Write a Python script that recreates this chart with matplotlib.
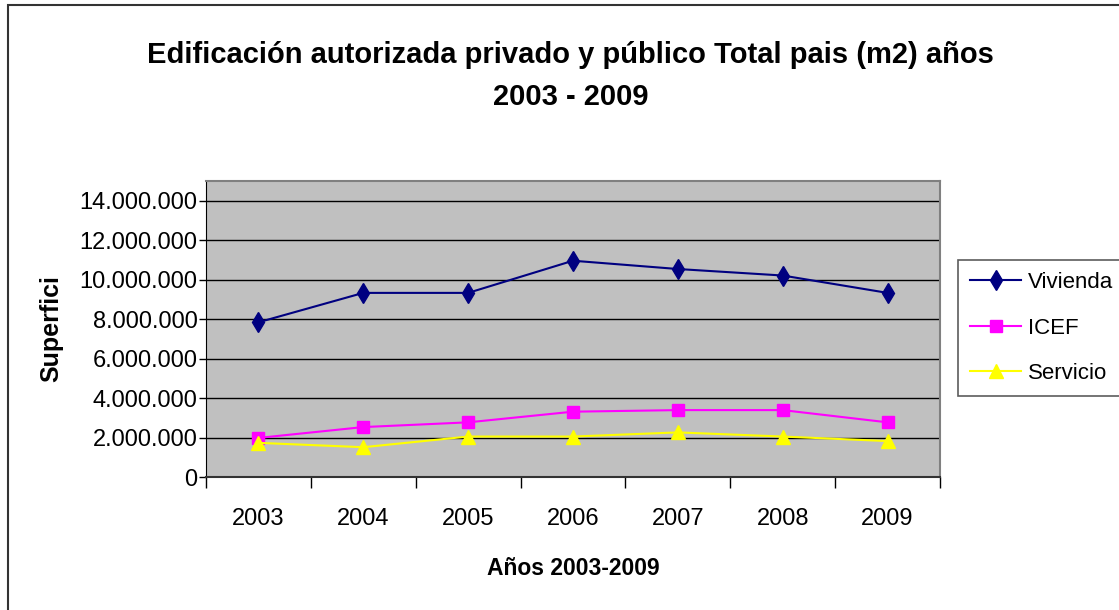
import matplotlib.pyplot as plt
import matplotlib.patches as patches
from matplotlib.ticker import FuncFormatter, FixedLocator

years = ['2003', '2004', '2005', '2006', '2007', '2008', '2009']
vivienda = [7840000, 9330000, 9330000, 10960000, 10540000, 10210000, 9330000]
icef = [1980000, 2530000, 2770000, 3310000, 3390000, 3390000, 2770000]
servicio = [1730000, 1510000, 2050000, 2050000, 2260000, 2050000, 1820000]

plt.rcParams['font.family'] = ['Liberation Sans', 'DejaVu Sans']

fig = plt.figure(figsize=(11.19, 6.10), dpi=100)
ax = fig.add_axes([206 / 1119, 1 - 477 / 610, (940 - 206) / 1119, (477 - 181) / 610])

# outer chart border
fig.patches.append(patches.Rectangle((8 / 1119, -0.1), 1.2, 1 - 5 / 610 + 0.1,
                                     transform=fig.transFigure, fill=False,
                                     edgecolor='#333333', linewidth=1.5))

x = list(range(len(years)))
ax.set_facecolor('#C0C0C0')
ax.plot(x, vivienda, color='#000080', marker='d', markersize=10, linewidth=1.5, label='Vivienda', zorder=3)
ax.plot(x, icef, color='#FF00FF', marker='s', markersize=8, linewidth=1.5, label='ICEF', zorder=3)
ax.plot(x, servicio, color='#FFFF00', marker='^', markersize=10, linewidth=1.5, label='Servicio', zorder=3)

ax.set_xlim(-0.5, 6.5)
ax.set_ylim(0, 15000000)
ax.set_yticks(range(0, 14000001, 2000000))
ax.yaxis.set_major_formatter(FuncFormatter(lambda v, p: f'{int(v):,}'.replace(',', '.')))
ax.grid(axis='y', color='black', linewidth=1)
ax.set_axisbelow(True)

ax.xaxis.set_major_locator(FixedLocator([i - 0.5 for i in range(len(years) + 1)]))
ax.xaxis.set_minor_locator(FixedLocator(x))
ax.set_xticklabels([])
ax.set_xticklabels(years, minor=True)
ax.tick_params(axis='x', which='major', length=8, width=1, color='black')
ax.tick_params(axis='x', which='minor', length=0, pad=22, labelsize=17)
ax.tick_params(axis='y', length=5, width=1, labelsize=17, pad=1)

for side in ['top', 'right']:
    ax.spines[side].set_color('#808080')
    ax.spines[side].set_linewidth(1.5)
ax.spines['left'].set_color('black')
ax.spines['bottom'].set_color('#333333')
ax.spines['bottom'].set_linewidth(1.5)

ax.set_ylabel('Superfici', fontsize=18, fontweight='bold', labelpad=12)
ax.set_xlabel('Años 2003-2009', fontsize=16.5, fontweight='bold', labelpad=20)

fig.text(0.510, 1 - 76 / 610, 'Edificación autorizada privado y público Total pais (m2) años\n2003 - 2009',
         ha='center', va='center', fontsize=21, fontweight='bold', linespacing=1.65)

leg = fig.legend(loc='upper left', bbox_to_anchor=(958 / 1119, 1 - 260 / 610), fontsize=16,
                 frameon=True, fancybox=False, edgecolor='#333333', handlelength=2.3,
                 handletextpad=0.3, borderpad=0.55, labelspacing=1.1, borderaxespad=0)
leg.get_frame().set_linewidth(1.2)

fig.savefig('out.png', dpi=100, facecolor='white')
